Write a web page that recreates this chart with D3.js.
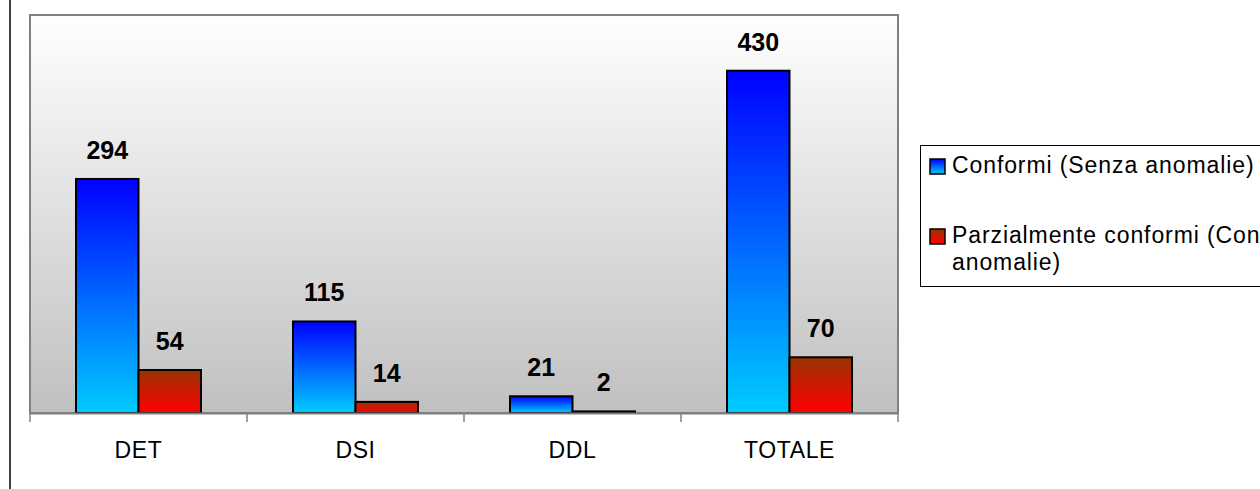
<!DOCTYPE html>
<html>
<head>
<meta charset="utf-8">
<script src="https://cdn.jsdelivr.net/npm/d3@7"></script>
<style>
  body { margin: 0; background: #fff; }
  svg { display: block; font-family: Arial, "Liberation Sans", sans-serif; }
</style>
</head>
<body>
<script>
// data
var categories = ["DET", "DSI", "DDL", "TOTALE"];
var conformi = [294, 115, 21, 430];
var parziali = [54, 14, 2, 70];
var seriesNames = ["Conformi (Senza anomalie)", "Parzialmente conformi (Con anomalie)"];

var W = 1260, H = 489;
var plot = { left: 30, top: 15, right: 898, bottom: 413 };

var svg = d3.select("body").append("svg")
    .attr("width", W)
    .attr("height", H);

var defs = svg.append("defs");

// background gradient of the plot area
var bg = defs.append("linearGradient").attr("id", "bg")
    .attr("x1", 0).attr("y1", 0).attr("x2", 0).attr("y2", 1);
bg.append("stop").attr("offset", "0%").attr("stop-color", "#ffffff");
bg.append("stop").attr("offset", "100%").attr("stop-color", "#c0c0c0");

var gBlue = defs.append("linearGradient").attr("id", "gBlue")
    .attr("x1", 0).attr("y1", 0).attr("x2", 0).attr("y2", 1);
gBlue.append("stop").attr("offset", "0%").attr("stop-color", "#0000ff");
gBlue.append("stop").attr("offset", "100%").attr("stop-color", "#00ccff");

var gRed = defs.append("linearGradient").attr("id", "gRed")
    .attr("x1", 0).attr("y1", 0).attr("x2", 0).attr("y2", 1);
gRed.append("stop").attr("offset", "0%").attr("stop-color", "#993300");
gRed.append("stop").attr("offset", "100%").attr("stop-color", "#ff0000");

var fills = ["url(#gBlue)", "url(#gRed)"];

// left frame line
svg.append("line")
    .attr("x1", 10).attr("x2", 10)
    .attr("y1", 0).attr("y2", H)
    .attr("stroke", "#000").attr("stroke-width", 1.5);

// plot area
svg.append("rect")
    .attr("x", plot.left).attr("y", plot.top)
    .attr("width", plot.right - plot.left)
    .attr("height", plot.bottom - plot.top)
    .attr("fill", "url(#bg)")
    .attr("stroke", "#808080")
    .attr("stroke-width", 2);

var x = d3.scaleBand()
    .domain(categories)
    .range([plot.left, plot.right])
    .paddingInner(0)
    .paddingOuter(0);

var y = d3.scaleLinear()
    .domain([0, 500])
    .range([plot.bottom, plot.top]);

var barW = 62.5;
var groups = categories.map(function(c, i) {
    return { cat: c, vals: [conformi[i], parziali[i]] };
});

var g = svg.selectAll("g.cat")
    .data(groups)
    .enter().append("g")
    .attr("class", "cat");

g.each(function(d) {
    var cx = x(d.cat) + x.bandwidth() / 2;
    var sel = d3.select(this);
    d.vals.forEach(function(v, k) {
        var bx = cx - barW + k * barW;
        sel.append("rect")
            .attr("x", bx)
            .attr("y", y(v))
            .attr("width", barW)
            .attr("height", y(0) - y(v))
            .attr("fill", fills[k])
            .attr("stroke", "#000")
            .attr("stroke-width", 2);
        sel.append("text")
            .attr("x", bx + barW / 2)
            .attr("y", y(v) - 20)
            .attr("text-anchor", "middle")
            .attr("font-size", 25)
            .attr("font-weight", "bold")
            .text(v);
    });
});

// x axis
var axis = svg.append("g")
    .attr("transform", "translate(0," + plot.bottom + ")")
    .call(d3.axisBottom(x).tickSize(0).tickPadding(29));
axis.select(".domain").attr("stroke", "#808080").attr("stroke-width", 2);
axis.selectAll("text")
    .attr("font-size", 23)
    .attr("letter-spacing", 0.6)
    .attr("font-family", "Arial, 'Liberation Sans', sans-serif")
    .attr("fill", "#000");

// tick marks at band boundaries
var edges = categories.map(function(c) { return x(c); }).concat([plot.right]);
svg.selectAll("line.edge")
    .data(edges)
    .enter().append("line")
    .attr("class", "edge")
    .attr("x1", function(d) { return d; })
    .attr("x2", function(d) { return d; })
    .attr("y1", plot.bottom)
    .attr("y2", plot.bottom + 9)
    .attr("stroke", "#808080")
    .attr("stroke-width", 1.5);

// legend
var leg = svg.append("g");
leg.append("rect")
    .attr("x", 920.5).attr("y", 145.5)
    .attr("width", 360).attr("height", 141)
    .attr("fill", "#fff")
    .attr("stroke", "#000")
    .attr("stroke-width", 1);

var legItems = [
    { lines: [seriesNames[0]], y: 173 },
    { lines: ["Parzialmente conformi (Con", "anomalie)"], y: 243 }
];
legItems.forEach(function(it, k) {
    leg.append("rect")
        .attr("x", 930).attr("y", it.y - 14)
        .attr("width", 15).attr("height", 15)
        .attr("fill", fills[k])
        .attr("stroke", "#000")
        .attr("stroke-width", 1.5);
    it.lines.forEach(function(t, j) {
        leg.append("text")
            .attr("x", 952)
            .attr("y", it.y + j * 27)
            .attr("font-size", 23)
            .attr("letter-spacing", 0.9)
            .attr("fill", "#000")
            .text(t);
    });
});
</script>
</body>
</html>
